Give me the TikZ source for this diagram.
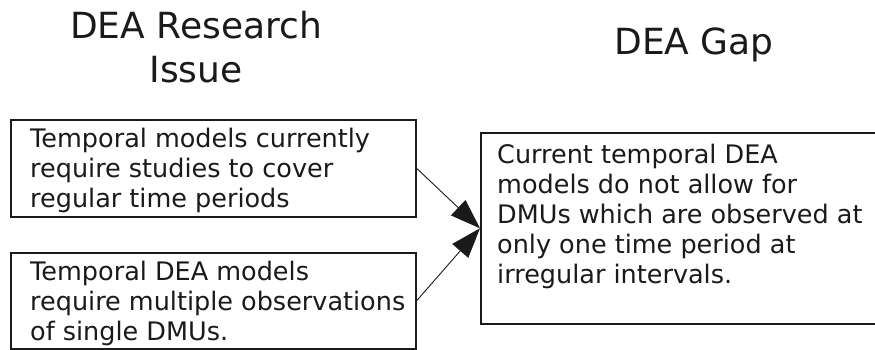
\documentclass[tikz,border=0pt]{standalone}
\usepackage{fontspec}
\setmainfont{DejaVu Sans}
\usetikzlibrary{arrows.meta}
\definecolor{ink}{HTML}{1A1A1A}
\begin{document}
\begin{tikzpicture}[x=1pt,y=-1pt,
  boxstyle/.style={draw=ink,line width=1.6pt,fill=white,rectangle,inner sep=0pt},
  bodytext/.style={anchor=north west,inner sep=0pt,align=left,text=ink,
    font=\fontsize{25.5}{30}\selectfont},
  titletext/.style={inner sep=0pt,align=center,text=ink,
    font=\fontsize{36}{44}\selectfont},
  link/.style={draw=ink,line width=0.9pt,-{Triangle[length=30pt,width=21pt]}}]
\useasboundingbox (0,0) rectangle (875,350);
\fill[white] (0,0) rectangle (875,350);
% titles
\node[titletext,anchor=north] (t1) at (196,10.6) {DEA Research\\Issue};
\node[titletext,anchor=base] (t2) at (694,55) {DEA Gap};
% boxes
\node[boxstyle,minimum width=405pt,minimum height=97pt,anchor=north west] (b1) at (10,119) {};
\node[boxstyle,minimum width=405pt,minimum height=96pt,anchor=north west] (b2) at (10,252) {};
\node[boxstyle,minimum width=405pt,minimum height=191pt,anchor=north west] (b3) at (480,132) {};
% texts
\node[bodytext] (x1) at (30,127.6) {Temporal models currently\\require studies to cover\\regular time periods};
\node[bodytext] (x2) at (30,260.6) {Temporal DEA models\\require multiple observations\\of single DMUs.};
\node[bodytext] (x3) at (497,143.6) {Current temporal DEA\\models do not allow for\\DMUs which are observed at\\only one time period at\\irregular intervals.};
% connectors
\draw[link] (b1.east) -- (b3.west);
\draw[link] (b2.east) -- (b3.west);
\end{tikzpicture}
\end{document}
